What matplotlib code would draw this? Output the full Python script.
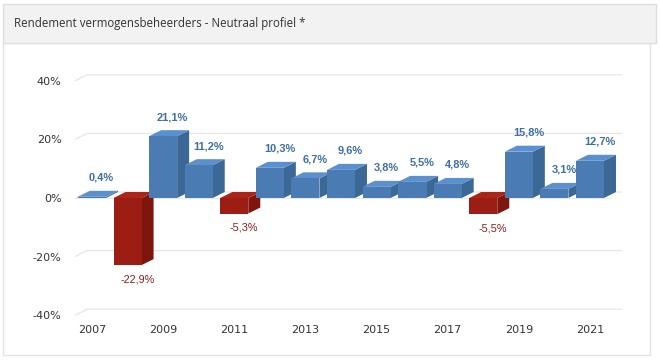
import matplotlib
matplotlib.use("Agg")
import matplotlib.pyplot as plt
from matplotlib.patches import Polygon, Rectangle

years = [2007, 2008, 2009, 2010, 2011, 2012, 2013, 2014, 2015, 2016, 2017, 2018, 2019, 2020, 2021]
returns = [0.4, -22.9, 21.1, 11.2, -5.3, 10.3, 6.7, 9.6, 3.8, 5.5, 4.8, -5.5, 15.8, 3.1, 12.7]
xtick_years = [2007, 2009, 2011, 2013, 2015, 2017, 2019, 2021]
ytick_values = [-40, -20, 0, 20, 40]
title = "Rendement vermogensbeheerders - Neutraal profiel *"

W, H = 660, 360
fig = plt.figure(figsize=(W / 100, H / 100), dpi=100)
fig.patch.set_facecolor("white")

def fx(px):
    return px / W

def fy(py):
    return 1 - py / H

# panel frame
fig.patches.append(Rectangle((fx(3), fy(355)), fx(647), (355 - 43) / H, transform=fig.transFigure,
                             facecolor="white", edgecolor="#e3e3e3", lw=1.0, zorder=-2))
fig.patches.append(Rectangle((fx(3), fy(43)), fx(653), (43 - 4) / H, transform=fig.transFigure,
                             facecolor="#f2f2f2", edgecolor="#dedede", lw=1.0, zorder=-1))
fig.text(fx(14), fy(23), title, family="Open Sans", fontsize=8.3, color="#333333",
         ha="left", va="center")

# axes mapping: px = 92 + (year-2007)*35.57, py = 198 - v*2.93
sx, sy = 35.57, 2.93
xlo, xhi = 2006.3, 2022.0
ylo, yhi = -42, 44
left_px = 92 + (xlo - 2007) * sx
right_px = 92 + (xhi - 2007) * sx
top_px = 198 - yhi * sy
bot_px = 198 - ylo * sy
ax = fig.add_axes([fx(left_px), fy(bot_px), (right_px - left_px) / W, (bot_px - top_px) / H])
ax.set_zorder(2)
ax.set_xlim(xlo, xhi)
ax.set_ylim(ylo, yhi)
ax.patch.set_alpha(0)
for s in ax.spines.values():
    s.set_visible(False)

dx = 12 / sx
dy = 6 / sy
bw = 28 / sx

# gridlines on back wall with floor slant at left
gx0 = 2007 - 17 / sx
gx1 = 2007 + 530 / sx
for v in ytick_values:
    ax.plot([gx0, gx0 + dx, gx1], [v, v + dy, v + dy], color="#e6e6e6", lw=0.9,
            zorder=1, clip_on=False, solid_capstyle="butt")
ax.plot([gx0, gx1 - dx], [0, 0], color="#eaeaea", lw=0.9, zorder=1, clip_on=False)

blue = dict(front="#4a7bb2", side="#3c6895", top="#5b8fcd")
red = dict(front="#9c1d13", side="#7e160d", top="#aa2418")

for i, (yr, v) in enumerate(zip(years, returns)):
    c = blue if v >= 0 else red
    x0, x1 = yr - bw / 2, yr + bw / 2
    z = 2 + i * 0.1
    top_y = max(v, 0)
    lo, hi = min(v, 0), max(v, 0)
    side = Polygon([(x1, lo), (x1 + dx, lo + dy), (x1 + dx, hi + dy), (x1, hi)], closed=True,
                   facecolor=c["side"], edgecolor="none", zorder=z)
    topf = Polygon([(x0, top_y), (x0 + dx, top_y + dy), (x1 + dx, top_y + dy), (x1, top_y)], closed=True,
                   facecolor=c["top"], edgecolor="none", zorder=z + 0.01)
    front = Rectangle((x0, lo), bw, hi - lo, facecolor=c["front"], edgecolor="none", zorder=z + 0.02)
    ax.add_patch(side)
    ax.add_patch(topf)
    ax.add_patch(front)
    lab = f"{v:.1f}%".replace(".", ",")
    if v >= 0:
        ax.text(yr + 0.27, v + dy + 13 / sy, lab, ha="center", va="center", fontsize=7.9,
                family="Liberation Sans", weight="bold", color="#3d6ea6", zorder=10)
    else:
        ax.text(yr + 0.27, v - 14 / sy, lab, ha="center", va="center", fontsize=7.8,
                family="Liberation Sans", color="#8b1c1c", zorder=10)

ax.set_xticks(xtick_years)
ax.set_xticklabels([str(y) for y in xtick_years], fontsize=8, color="#333333", family="DejaVu Sans")
ax.set_yticks(ytick_values)
ax.set_yticklabels([f"{v}%" for v in ytick_values], fontsize=8, color="#333333", family="DejaVu Sans")
ax.tick_params(axis="both", length=0)
ax.tick_params(axis="y", pad=4)
ax.tick_params(axis="x", pad=3)

fig.savefig("out.png", dpi=100)
